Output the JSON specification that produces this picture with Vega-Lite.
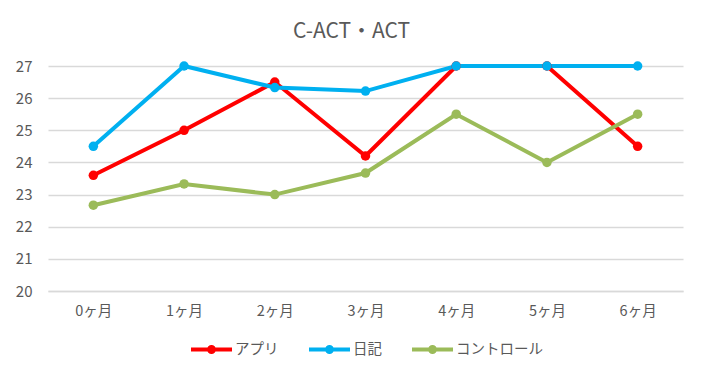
{
  "$schema": "https://vega.github.io/schema/vega-lite/v6.json",
  "width": 635,
  "height": 225,
  "autosize": "none",
  "padding": {"left": 48, "top": 66, "right": 21, "bottom": 82},
  "background": "white",
  "title": {
    "text": "C-ACT・ACT",
    "fontSize": 21,
    "font": "Noto Sans CJK JP",
    "fontWeight": "normal",
    "color": "#595959",
    "offset": 16,
    "dx": -14
  },
  "config": {
    "view": {"stroke": null},
    "font": "Noto Sans CJK JP",
    "legend": {"layout": {"bottom": {"anchor": "middle"}}}
  },
  "data": {
    "values": [
      {"month": "0ヶ月", "group": "アプリ", "score": 23.6},
      {"month": "1ヶ月", "group": "アプリ", "score": 25.0},
      {"month": "2ヶ月", "group": "アプリ", "score": 26.5},
      {"month": "3ヶ月", "group": "アプリ", "score": 24.2},
      {"month": "4ヶ月", "group": "アプリ", "score": 27.0},
      {"month": "5ヶ月", "group": "アプリ", "score": 27.0},
      {"month": "6ヶ月", "group": "アプリ", "score": 24.5},
      {"month": "0ヶ月", "group": "日記", "score": 24.5},
      {"month": "1ヶ月", "group": "日記", "score": 27.0},
      {"month": "2ヶ月", "group": "日記", "score": 26.33},
      {"month": "3ヶ月", "group": "日記", "score": 26.22},
      {"month": "4ヶ月", "group": "日記", "score": 27.0},
      {"month": "5ヶ月", "group": "日記", "score": 27.0},
      {"month": "6ヶ月", "group": "日記", "score": 27.0},
      {"month": "0ヶ月", "group": "コントロール", "score": 22.67},
      {"month": "1ヶ月", "group": "コントロール", "score": 23.33},
      {"month": "2ヶ月", "group": "コントロール", "score": 23.0},
      {"month": "3ヶ月", "group": "コントロール", "score": 23.67},
      {"month": "4ヶ月", "group": "コントロール", "score": 25.5},
      {"month": "5ヶ月", "group": "コントロール", "score": 24.0},
      {"month": "6ヶ月", "group": "コントロール", "score": 25.5}
    ]
  },
  "mark": {"type": "line", "strokeWidth": 4, "point": {"filled": true, "size": 90, "opacity": 1}},
  "encoding": {
    "x": {
      "field": "month",
      "type": "ordinal",
      "sort": null,
      "scale": {"type": "point", "padding": 0.5},
      "axis": {
        "title": null,
        "labelAngle": 0,
        "labelFontSize": 14.5,
        "labelColor": "#595959",
        "labelPadding": 13,
        "ticks": false,
        "domainColor": "#d9d9d9",
        "domainWidth": 1.5,
        "grid": false
      }
    },
    "y": {
      "field": "score",
      "type": "quantitative",
      "scale": {"domain": [20, 27], "zero": false, "nice": false},
      "axis": {
        "title": null,
        "values": [20, 21, 22, 23, 24, 25, 26, 27],
        "labelFontSize": 15,
        "labelColor": "#595959",
        "labelPadding": 16,
        "ticks": false,
        "domain": false,
        "gridColor": "#d9d9d9",
        "gridWidth": 1.5
      }
    },
    "color": {
      "field": "group",
      "type": "nominal",
      "scale": {"domain": ["アプリ", "日記", "コントロール"], "range": ["#ff0000", "#00b0f0", "#9bbb59"]},
      "legend": {
        "title": null,
        "orient": "bottom",
        "direction": "horizontal",
        "offset": 9,
        "labelFontSize": 14.5,
        "labelColor": "#595959",
        "labelOffset": 1,
        "columnPadding": 22,
        "symbolType": "M-1,0L1,0M-0.12,0A0.12,0.12 0 1,1 0.12,0A0.12,0.12 0 1,1 -0.12,0",
        "symbolSize": 1681,
        "symbolStrokeWidth": 4,
        "encode": {"symbols": {"update": {"fill": {"scale": "color", "field": "value"}}}}
      }
    }
  }
}
